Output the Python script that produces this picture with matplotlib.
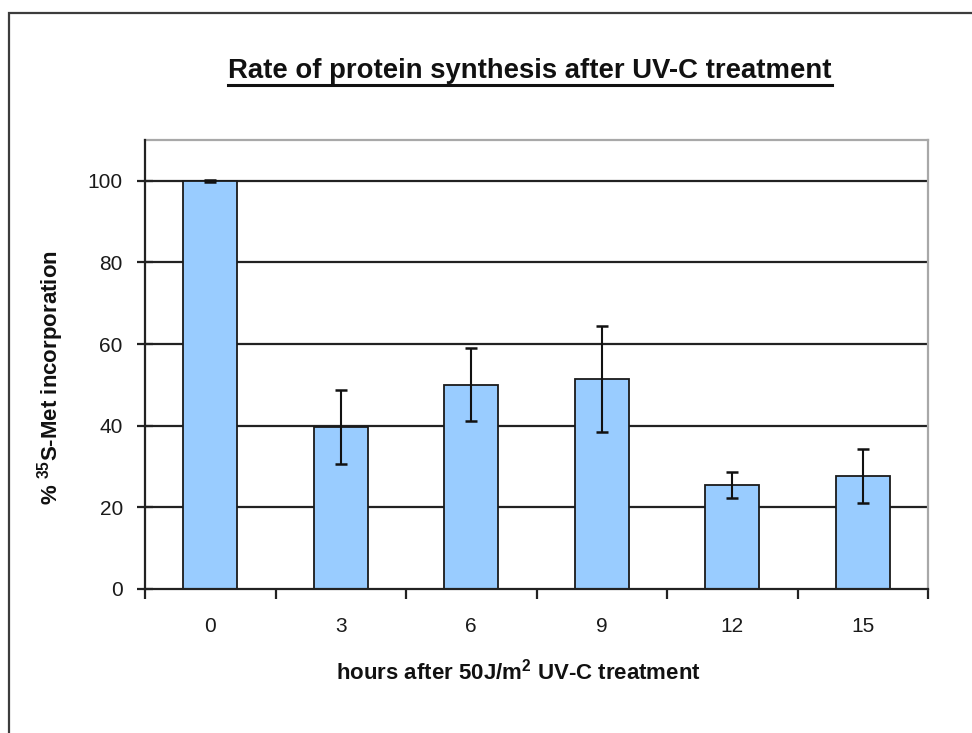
import matplotlib
matplotlib.use("Agg")
import matplotlib.pyplot as plt
import numpy as np
from matplotlib.lines import Line2D
from matplotlib.patches import Rectangle

plt.rcParams['font.family'] = ['Liberation Sans', 'DejaVu Sans']
plt.rcParams['mathtext.fontset'] = 'custom'
plt.rcParams['mathtext.rm'] = 'Liberation Sans'
plt.rcParams['mathtext.bf'] = 'Liberation Sans:bold'

# Data: hours after UV-C treatment, % 35S-Met incorporation and error
hours = ["0", "3", "6", "9", "12", "15"]
incorporation = [100.0, 39.7, 50.1, 51.5, 25.5, 27.6]
errors = [0.3, 9.0, 9.0, 13.0, 3.2, 6.6]
y_ticks = [0, 20, 40, 60, 80, 100]

W, H = 972, 733
fig = plt.figure(figsize=(W / 100, H / 100), dpi=100)
fig.patch.set_facecolor("white")

def fx(px):
    return px / W

def fy(py):
    return 1 - py / H

# outer chart frame (continues past the right/bottom edges)
fig.patches.append(Rectangle((fx(9), fy(760)), fx(1000) - fx(9), fy(13) - fy(760),
                             transform=fig.transFigure, fill=False,
                             edgecolor="#3c3c3c", linewidth=1.6, zorder=0))

left, top, right, bottom = 145, 140, 928, 589
ax = fig.add_axes([fx(left), fy(bottom), fx(right) - fx(left), fy(top) - fy(bottom)])

x = np.arange(len(hours))
ax.bar(x, incorporation, width=0.41, color="#99ccff", edgecolor="#1a1a1a",
       linewidth=1.3, zorder=3)
ax.errorbar(x, incorporation, yerr=errors, fmt="none", ecolor="#111111",
            elinewidth=1.5, capsize=4.5, capthick=1.8, zorder=4)

ax.set_xlim(-0.5, len(hours) - 0.5)
ax.set_ylim(0, 110)

ax.set_yticks(y_ticks)
ax.set_yticklabels([str(v) for v in y_ticks], fontsize=15, color="#1a1a1a")
for v in y_ticks[1:]:
    ax.axhline(v, color="#222222", linewidth=1.6, zorder=1)

# category boundary ticks on x
ax.set_xticks(np.arange(-0.5, len(hours) + 0.5, 1.0))
ax.set_xticklabels([])
ax.set_xticks(x, minor=True)
ax.set_xticklabels(hours, minor=True, fontsize=15, color="#1a1a1a")
ax.tick_params(axis="x", which="major", direction="out", length=7, width=1.6,
               color="#222222")
ax.tick_params(axis="x", which="minor", length=0, pad=20)
ax.tick_params(axis="y", direction="inout", length=12, width=1.6,
               color="#222222", pad=10)

for side in ("left", "bottom"):
    ax.spines[side].set_color("#222222")
    ax.spines[side].set_linewidth(1.6)
for side in ("top", "right"):
    ax.spines[side].set_color("#a8a8a8")
    ax.spines[side].set_linewidth(1.6)
ax.spines["left"].set_zorder(5)
ax.spines["bottom"].set_zorder(5)

# axis titles
fig.text(fx(51), fy(378), r"% $\mathbf{^{35}}$S-Met incorporation", fontsize=16,
         fontweight="bold", rotation=90, ha="center", va="center", color="#111111")

fig.text(fx(518), fy(672), r"hours after 50J/m$\mathbf{^{2}}$ UV-C treatment",
         fontsize=16, fontweight="bold", ha="center", va="center", color="#111111")

# underlined chart title
title = fig.text(fx(530), fy(71), "Rate of protein synthesis after UV-C treatment",
                 fontsize=19.8, fontweight="bold", ha="center", va="center",
                 color="#111111")
fig.canvas.draw()
bb = title.get_window_extent(renderer=fig.canvas.get_renderer())
uy = bb.y0 - 1
fig.lines.append(Line2D([bb.x0 / W, bb.x1 / W], [uy / H, uy / H],
                        transform=fig.transFigure, color="#111111", linewidth=2.2))

fig.savefig("out.png", dpi=100, facecolor="white")
